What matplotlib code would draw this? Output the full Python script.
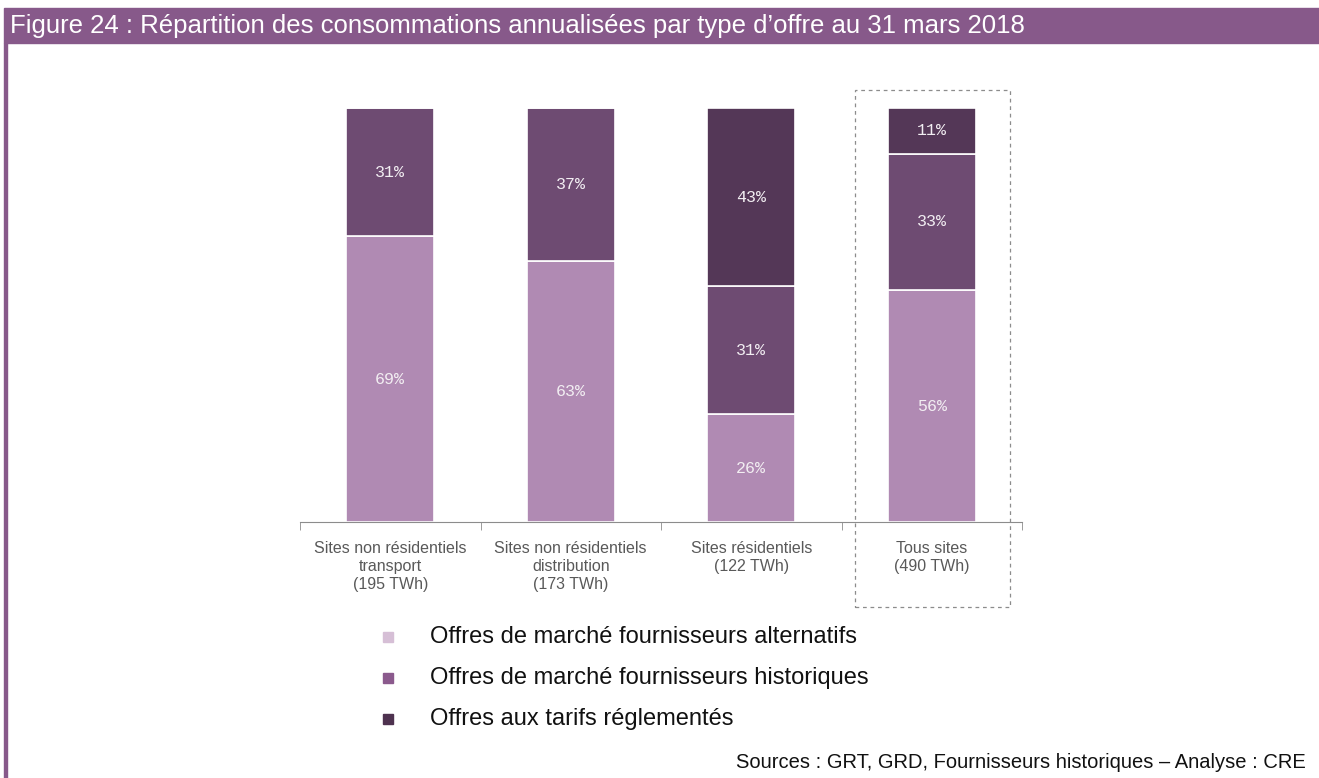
import numpy as np
import matplotlib
matplotlib.use("Agg")
import matplotlib.pyplot as plt
from matplotlib.patches import Rectangle

# Data
categories = ["Sites non résidentiels\ntransport\n(195 TWh)",
              "Sites non résidentiels\ndistribution\n(173 TWh)",
              "Sites résidentiels\n(122 TWh)",
              "Tous sites\n(490 TWh)"]
series_names = ["Offres de marché fournisseurs alternatifs",
                "Offres de marché fournisseurs historiques",
                "Offres aux tarifs réglementés"]
alternatifs = [69, 63, 26, 56]
historiques = [31, 37, 31, 33]
reglementes = [0, 0, 43, 11]

bar_colors = ["#b08ab3", "#6e4b72", "#543757"]
legend_colors = ["#d6bfd6", "#8b5a8d", "#4e324f"]
purple = "#87598a"

fig = plt.figure(figsize=(13.19, 7.78), dpi=100)

# header band + left border
fig.patches.append(Rectangle((4 / 1319, 1 - 43 / 778), 1, 35 / 778,
                             transform=fig.transFigure, color=purple, zorder=0))
fig.patches.append(Rectangle((4 / 1319, 0), 3 / 1319, 1 - 43 / 778,
                             transform=fig.transFigure, color=purple, zorder=0))
fig.text(10 / 1319, 1 - 26 / 778,
         "Figure 24 : Répartition des consommations annualisées par type d’offre au 31 mars 2018",
         color="white", fontsize=18.5, va="center", ha="left", family="Liberation Sans")

ax = fig.add_axes([300 / 1319, 256 / 778, 722 / 1319, 414 / 778])
x = np.arange(len(categories))
w = 0.49
bottom = np.zeros(len(categories))
for vals, col in zip([alternatifs, historiques, reglementes], bar_colors):
    vals = np.array(vals, dtype=float)
    ax.bar(x, vals, w, bottom=bottom, color=col, edgecolor="white", linewidth=1.2)
    for xi, b, v in zip(x, bottom, vals):
        if v > 0:
            ax.text(xi, b + v / 2, f"{int(v)}%", ha="center", va="center",
                    color="#f2eef2", fontsize=12, family="Liberation Mono")
    bottom += vals

ax.set_xlim(-0.5, 3.5)
ax.set_ylim(0, 100)
for s in ["top", "right", "left"]:
    ax.spines[s].set_visible(False)
ax.spines["bottom"].set_color("#8c8c8c")
ax.set_yticks([])
ax.set_xticks(x)
ax.set_xticklabels(categories, color="#595959", fontsize=11.5, linespacing=1.25,
                   family="Liberation Sans")
ax.set_xticks(np.arange(-0.5, 4, 1), minor=True)
ax.tick_params(axis="x", which="major", length=0, pad=14)
ax.tick_params(axis="x", which="minor", length=6, color="#8c8c8c", direction="out")

# dashed frame around the total bar
fig.patches.append(Rectangle((855 / 1319, 1 - 607 / 778), 155 / 1319, 517 / 778,
                             transform=fig.transFigure, fill=False,
                             edgecolor="#8c8c8c", linestyle=(0, (3, 3)), linewidth=0.9))

# legend
for i, (name, col) in enumerate(zip(series_names, legend_colors)):
    yy = 1 - (637 + 41 * i) / 778
    fig.patches.append(Rectangle((383 / 1319, yy - 5 / 778), 10 / 1319, 10 / 778,
                                 transform=fig.transFigure, color=col))
    fig.text(430 / 1319, yy, name, fontsize=17, va="center", ha="left",
             color="#111111", family="Liberation Sans")

fig.text(1306 / 1319, 1 - 763 / 778,
         "Sources : GRT, GRD, Fournisseurs historiques – Analyse : CRE",
         fontsize=14.5, ha="right", va="center", color="#111111", family="Liberation Sans")

fig.savefig("out.png", dpi=100)
